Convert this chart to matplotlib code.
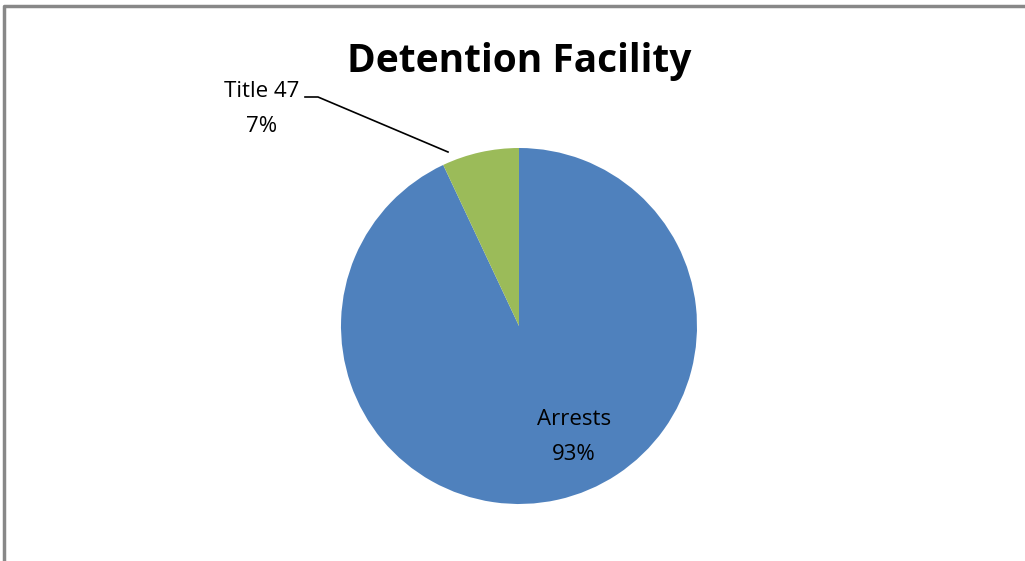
import matplotlib.pyplot as plt

# Data
labels = ['Arrests', 'Title 47']
values = [93, 7]
colors = ['#4F81BD', '#9BBB59']
title = 'Detention Facility'

plt.rcParams['font.family'] = ['Open Sans', 'DejaVu Sans']

fig = plt.figure(figsize=(10.25, 5.61), dpi=100)
ax = fig.add_axes([0, 0, 1, 1])

# pie drawn clockwise from 12 o'clock like Excel
wedges, _ = ax.pie(values, colors=colors, startangle=90, counterclock=False,
                   center=(519, 235), radius=178, frame=True)
ax.set_xlim(0, 1025)
ax.set_ylim(0, 561)
ax.set_aspect('equal')
ax.axis('off')

# chart border (cropped at right/bottom)
ax.plot([3.5, 3.5, 1030], [-10, 555, 555], color='#888888', lw=2.5, clip_on=False)

ax.text(519, 500, title, ha='center', va='center', fontsize=28, fontweight='bold')

# labels
ax.text(574, 124, 'Arrests\n93%', ha='center', va='center', fontsize=16,
        linespacing=1.9)
ax.text(262, 452, 'Title 47\n7%', ha='center', va='center', fontsize=16,
        linespacing=1.9)
ax.plot([305, 318, 448], [464, 464, 409], color='black', lw=1.2)

fig.savefig('out.png', dpi=100)
